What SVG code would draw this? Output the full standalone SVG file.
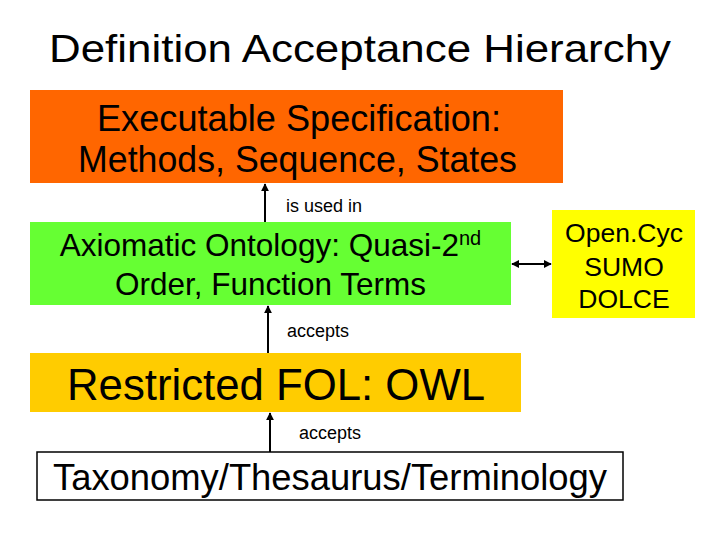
<svg xmlns="http://www.w3.org/2000/svg" width="720" height="540" viewBox="0 0 720 540">
<style>
text{font-family:"Liberation Sans",Arial,sans-serif;fill:#000;text-anchor:middle}
.lbl{font-size:18px;text-anchor:start}
.c{stroke:#000;stroke-width:2;fill:none}
</style>
<defs>
<marker id="ah" viewBox="0 0 10 10" refX="9" refY="5" markerWidth="4" markerHeight="4" orient="auto-start-reverse"><path d="M0,0 L10,5 L0,10 z" fill="#000"/></marker>
</defs>
<rect width="720" height="540" fill="#fff"/>
<text x="360" y="62" font-size="39" textLength="622" lengthAdjust="spacingAndGlyphs">Definition Acceptance Hierarchy</text>
<g id="exec">
<rect x="30" y="90" width="533" height="93" fill="#FF6600"/>
<text x="299" y="131" font-size="36" textLength="404" lengthAdjust="spacingAndGlyphs">Executable Specification:</text>
<text x="297.5" y="172" font-size="36" textLength="439" lengthAdjust="spacingAndGlyphs">Methods, Sequence, States</text>
</g>
<g id="axiom">
<rect x="30" y="222" width="481" height="83" fill="#66FF33"/>
<text x="270.5" y="256" font-size="31.5">Axiomatic Ontology: Quasi-2<tspan font-size="20" dy="-11">nd</tspan></text>
<text x="270.5" y="295" font-size="31.5">Order, Function Terms</text>
</g>
<g id="opencyc">
<rect x="552" y="210" width="143" height="108" fill="#FFFF00"/>
<text x="624" y="242" font-size="26.5">Open.Cyc</text>
<text x="624" y="276" font-size="26.5">SUMO</text>
<text x="624" y="308" font-size="26.5">DOLCE</text>
</g>
<g id="fol">
<rect x="30" y="353" width="491" height="59" fill="#FFCC00"/>
<text x="276" y="400" font-size="44" textLength="418" lengthAdjust="spacingAndGlyphs">Restricted FOL: OWL</text>
</g>
<g id="taxo">
<rect x="37" y="452" width="586" height="48" fill="#fff" stroke="#000" stroke-width="1.5"/>
<text x="330" y="490" font-size="36" textLength="554" lengthAdjust="spacingAndGlyphs">Taxonomy/Thesaurus/Terminology</text>
</g>
<g id="connectors">
<line class="c" x1="265" y1="222" x2="265" y2="184" marker-end="url(#ah)"/>
<line class="c" x1="268" y1="353" x2="268" y2="306" marker-end="url(#ah)"/>
<line class="c" x1="270" y1="452" x2="270" y2="413" marker-end="url(#ah)"/>
<line class="c" x1="512" y1="264" x2="551" y2="264" marker-start="url(#ah)" marker-end="url(#ah)"/>
<text class="lbl" x="286" y="212" textLength="76" lengthAdjust="spacingAndGlyphs">is used in</text>
<text class="lbl" x="287" y="337" textLength="62" lengthAdjust="spacingAndGlyphs">accepts</text>
<text class="lbl" x="299" y="439" textLength="62" lengthAdjust="spacingAndGlyphs">accepts</text>
</g>
</svg>
